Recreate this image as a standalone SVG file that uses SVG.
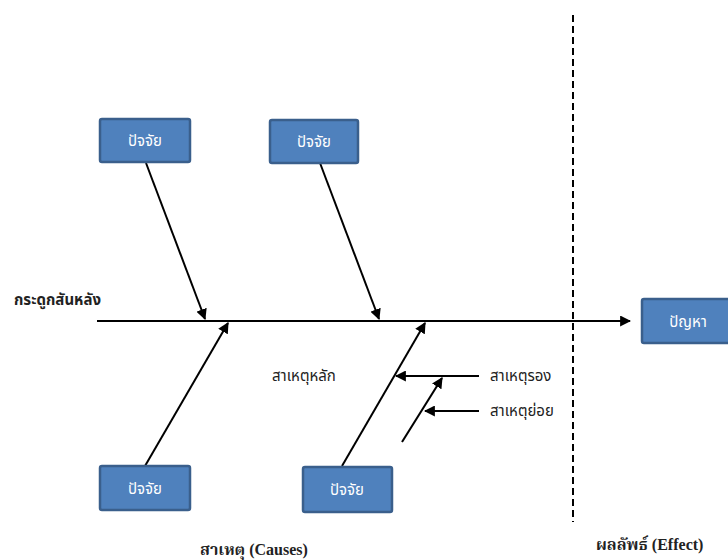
<svg xmlns="http://www.w3.org/2000/svg" width="728" height="560" viewBox="0 0 728 560">
<defs>
<marker id="ah" viewBox="0 0 10 10" refX="9" refY="5" markerWidth="5.5" markerHeight="5.5" orient="auto" markerUnits="strokeWidth">
<path d="M0,0 L10,5 L0,10 z" fill="#000"/>
</marker>
<style>
.box{fill:#4F81BD;stroke:#3A5F8C;stroke-width:2.5}
.bt{fill:#FFFFFF;font-family:"Noto Sans Thai","Noto Sans","DejaVu Sans",sans-serif;font-size:15px;text-anchor:middle}
.ln{stroke:#000;stroke-width:2;fill:none}
.lbl{fill:#222;font-family:"Noto Sans Thai","Noto Sans","DejaVu Sans",sans-serif;font-size:15px}
.cap{fill:#222;font-family:"Liberation Serif","Noto Serif Thai","Noto Sans Thai",serif;font-size:16px;font-weight:bold}
</style>
</defs>
<rect width="728" height="560" fill="#fff"/>
<g id="connectors">
<line class="ln" x1="97" y1="321" x2="630" y2="321" stroke-width="2.5" marker-end="url(#ah)"/>
<line x1="573" y1="15" x2="573" y2="522" stroke="#000" stroke-width="2" stroke-dasharray="7,4"/>
<line class="ln" x1="146" y1="163" x2="205" y2="319" marker-end="url(#ah)"/>
<line class="ln" x1="320" y1="163" x2="379" y2="319" marker-end="url(#ah)"/>
<line class="ln" x1="145" y1="466" x2="228" y2="323" marker-end="url(#ah)"/>
<line class="ln" x1="342" y1="466" x2="425" y2="323" marker-end="url(#ah)"/>
<line class="ln" x1="479" y1="376" x2="396" y2="376" marker-end="url(#ah)"/>
<line class="ln" x1="402" y1="442" x2="442" y2="378" marker-end="url(#ah)"/>
<line class="ln" x1="479" y1="411" x2="425" y2="411" marker-end="url(#ah)"/>
</g>
<g id="factor1"><rect class="box" x="100" y="119" width="90" height="43" rx="2"/><text class="bt" x="145" y="146">ปัจจัย</text></g>
<g id="factor2"><rect class="box" x="270" y="120" width="88" height="43" rx="2"/><text class="bt" x="314" y="147">ปัจจัย</text></g>
<g id="factor3"><rect class="box" x="100" y="466" width="90" height="44" rx="2"/><text class="bt" x="145" y="494">ปัจจัย</text></g>
<g id="factor4"><rect class="box" x="303" y="467" width="89" height="45" rx="2"/><text class="bt" x="347" y="495">ปัจจัย</text></g>
<g id="problem"><rect class="box" x="642" y="299" width="90" height="44" rx="2"/><text class="bt" x="688" y="327">ปัญหา</text></g>
<g id="labels">
<text class="lbl" x="14" y="305" font-weight="bold" font-size="16">กระดูกสันหลัง</text>
<text class="lbl" x="272" y="381" font-size="17">สาเหตุหลัก</text>
<text class="lbl" x="490" y="381">สาเหตุรอง</text>
<text class="lbl" x="490" y="416">สาเหตุย่อย</text>
<text class="cap" x="200" y="555">สาเหตุ (Causes)</text>
<text class="cap" x="596" y="550">ผลลัพธ์ (Effect)</text>
</g>
</svg>
